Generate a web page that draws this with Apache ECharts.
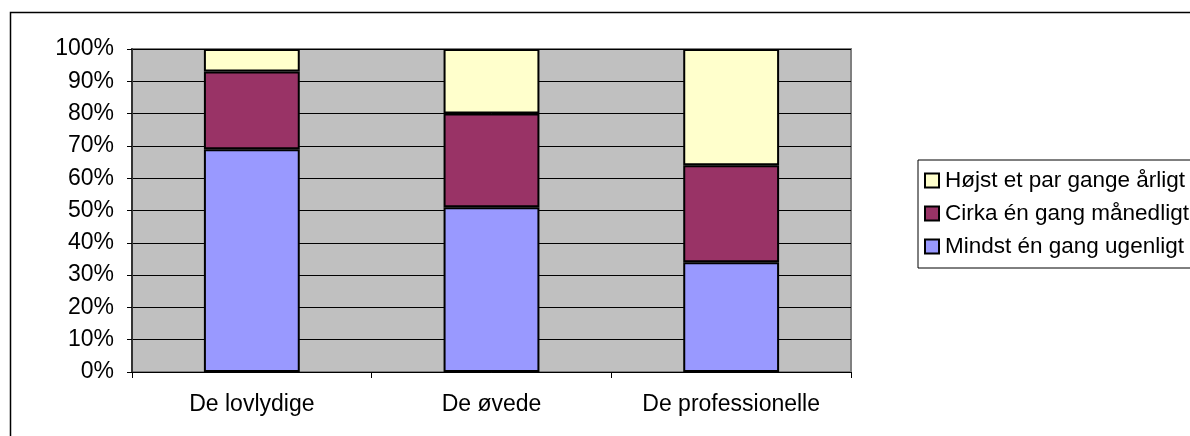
<!DOCTYPE html>
<html><head><meta charset="utf-8">
<script src="https://cdn.jsdelivr.net/npm/echarts@6/dist/echarts.min.js"></script>
<style>html,body{margin:0;padding:0;background:#fff}#c{width:1190px;height:436px}</style>
</head><body><div id="c"></div>
<script>
const categories = ['De lovlydige', 'De øvede', 'De professionelle'];
const seriesNames = ['Mindst én gang ugenligt', 'Cirka én gang månedligt', 'Højst et par gange årligt'];
const weekly = [69, 51, 34];
const monthly = [24, 29, 30];
const yearly = [7, 20, 36];
const colors = ['#9999ff', '#993366', '#ffffcc'];
const values = [weekly, monthly, yearly];

const chart = echarts.init(document.getElementById('c'));
const font = 'Liberation Sans, Arial, sans-serif';
chart.setOption({
  animation: false,
  textStyle: { fontFamily: font },
  graphic: [{
    type: 'rect', left: 8, top: 10, z: -10,
    shape: { x: 0, y: 0, width: 1200, height: 440 },
    style: { fill: 'none', stroke: '#000', lineWidth: 1.5 }
  }],
  grid: {
    left: 132, right: 339, top: 49, bottom: 64,
    show: true, backgroundColor: '#c0c0c0', borderColor: '#808080', borderWidth: 2
  },
  legend: {
    orient: 'vertical', left: 918, top: 160,
    data: [seriesNames[2], seriesNames[1], seriesNames[0]],
    icon: 'rect', itemWidth: 14, itemHeight: 14, itemGap: 10,
    padding: [9, 20, 10, 6],
    borderColor: '#000', borderWidth: 1, backgroundColor: '#fff',
    textStyle: { fontSize: 22.5, color: '#000', fontFamily: font, padding: [0, 0, 0, 1] },
    itemStyle: { borderColor: '#000', borderWidth: 2 }
  },
  xAxis: {
    type: 'category', data: categories,
    axisLine: { lineStyle: { color: '#000', width: 1 } },
    axisTick: { show: true, alignWithLabel: false, length: 6, lineStyle: { color: '#000' } },
    axisLabel: { fontSize: 23, color: '#000', margin: 21, fontFamily: font }
  },
  yAxis: {
    type: 'value', min: 0, max: 100, interval: 10,
    axisLine: { show: true, lineStyle: { color: '#333', width: 2 } },
    axisTick: { show: true, length: 5, lineStyle: { color: '#000' } },
    axisLabel: { fontSize: 23, color: '#000', margin: 18, formatter: '{value}%', fontFamily: font },
    splitLine: { lineStyle: { color: '#000', width: 1 } }
  },
  series: seriesNames.map((n, i) => ({
    name: n, type: 'bar', stack: 'total', data: values[i],
    barWidth: '40%',
    itemStyle: { color: colors[i], borderColor: '#000', borderWidth: 2 }
  }))
});
</script></body></html>
